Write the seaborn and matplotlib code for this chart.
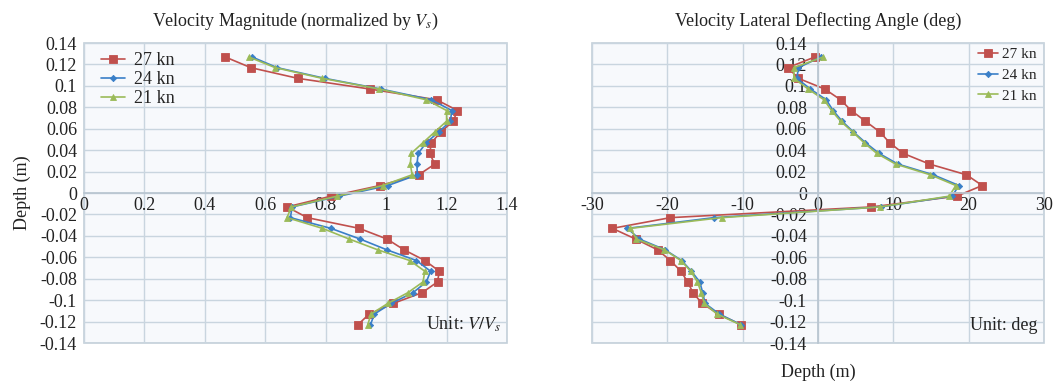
import numpy as np
import pandas as pd
import matplotlib
matplotlib.use("Agg")
import matplotlib.pyplot as plt
from matplotlib.patches import Rectangle
from matplotlib.ticker import FuncFormatter
import seaborn as sns

# Measurement depths (m)
depth = [0.127, 0.117, 0.107, 0.097, 0.087, 0.077, 0.067, 0.057, 0.047, 0.037,
         0.027, 0.017, 0.007, -0.003, -0.013, -0.023, -0.033, -0.043, -0.053,
         -0.063, -0.073, -0.083, -0.093, -0.103, -0.113, -0.123]

speeds = ["27 kn", "24 kn", "21 kn"]

# Velocity magnitude normalised by ship speed V/Vs
vmag_27 = [0.467, 0.552, 0.708, 0.947, 1.167, 1.236, 1.222, 1.181, 1.150, 1.144,
           1.161, 1.108, 0.980, 0.817, 0.672, 0.739, 0.911, 1.003, 1.059, 1.128,
           1.176, 1.170, 1.119, 1.024, 0.944, 0.906]
vmag_24 = [0.556, 0.639, 0.797, 0.983, 1.150, 1.217, 1.213, 1.174, 1.133, 1.106,
           1.102, 1.103, 1.006, 0.844, 0.689, 0.683, 0.817, 0.914, 1.002, 1.100,
           1.147, 1.133, 1.089, 1.017, 0.961, 0.948]
vmag_21 = [0.545, 0.633, 0.789, 0.978, 1.133, 1.200, 1.200, 1.161, 1.122, 1.083,
           1.080, 1.086, 0.989, 0.837, 0.686, 0.672, 0.789, 0.878, 0.972, 1.078,
           1.128, 1.122, 1.072, 1.006, 0.950, 0.939]

# Lateral deflecting angle (deg)
angle_27 = [-0.4, -4.0, -2.6, 0.9, 3.0, 4.4, 6.3, 8.2, 9.5, 11.3,
            14.8, 19.7, 21.8, 18.4, 7.1, -19.6, -27.3, -24.2, -21.3, -19.6,
            -18.2, -17.3, -16.6, -15.4, -13.2, -10.2]
angle_24 = [0.4, -2.6, -2.8, -1.0, 1.1, 2.0, 3.2, 4.7, 6.3, 8.1,
            10.6, 15.3, 18.7, 17.8, 8.3, -13.8, -25.3, -23.7, -20.3, -18.1,
            -16.8, -15.7, -15.3, -15.0, -13.1, -10.2]
angle_21 = [0.7, -3.2, -3.2, -1.3, 0.8, 1.8, 3.0, 4.6, 6.1, 7.8,
            10.3, 14.9, 18.3, 17.4, 8.2, -12.8, -24.9, -24.1, -20.4, -18.2,
            -16.9, -16.0, -15.5, -15.1, -13.4, -10.3]

y_ticks = np.round(np.arange(-0.14, 0.1401, 0.02), 2)
x_ticks_mag = np.round(np.arange(0, 1.401, 0.2), 1)
x_ticks_ang = np.arange(-30, 31, 10)

colors = {"27 kn": "#c0504d", "24 kn": "#3a7fc8", "21 kn": "#9bbb59"}
markers = {"27 kn": "s", "24 kn": "D", "21 kn": "^"}
msizes = {"27 kn": 5.5, "24 kn": 3.2, "21 kn": 5.0}

sns.set_theme(style="white")
plt.rcParams["font.family"] = ["Liberation Serif", "DejaVu Serif"]
plt.rcParams["mathtext.fontset"] = "stix"
plt.rcParams["axes.unicode_minus"] = False

grid_color = "#c9d5df"
face = "#f7f9fc"

fig = plt.figure(figsize=(10.54, 3.85), dpi=100)
W, H = 1054, 385
ax1 = fig.add_axes([84 / W, 42 / H, 423 / W, 300 / H])
ax2 = fig.add_axes([592 / W, 42 / H, 452 / W, 300 / H])


def fmt(v, pos=None):
    v = round(v, 2)
    if abs(v) < 1e-9:
        return "0"
    return f"{v:g}"


def draw(ax, series):
    for name, vals in zip(speeds, series):
        sns.lineplot(x=vals, y=depth, orient="y", sort=False, ax=ax,
                     color=colors[name], marker=markers[name],
                     markersize=msizes[name], markeredgewidth=0.6,
                     markeredgecolor=colors[name], linewidth=1.2, label=name)


def style(ax, xticks, xlim):
    ax.set_facecolor(face)
    ax.set_xlim(*xlim)
    ax.set_ylim(-0.14, 0.14)
    ax.set_xticks(xticks)
    ax.set_yticks(y_ticks)
    ax.xaxis.set_major_formatter(FuncFormatter(fmt))
    ax.yaxis.set_major_formatter(FuncFormatter(fmt))
    ax.grid(True, color=grid_color, linewidth=1.0)
    ax.set_axisbelow(True)
    for s in ["top", "right", "left", "bottom"]:
        ax.spines[s].set_visible(False)
    ax.tick_params(axis="both", length=0, labelsize=13, colors="#222222")
    ax.set_xlabel("")
    ax.set_ylabel("")
    ax.add_patch(Rectangle((0, 0), 1, 1, transform=ax.transAxes, fill=False,
                           edgecolor="#c3cfd9", linewidth=1.2, clip_on=False,
                           zorder=0.5))


# Left panel: velocity magnitude
draw(ax1, [vmag_27, vmag_24, vmag_21])
style(ax1, x_ticks_mag, (0, 1.4))
ax1.spines["bottom"].set_visible(True)
ax1.spines["bottom"].set_position(("data", 0))
ax1.spines["bottom"].set_color("#b9c6d1")
ax1.tick_params(axis="x", pad=3)
ax1.tick_params(axis="y", pad=5)
ax1.set_title(r"Velocity Magnitude (normalized by $V_s$)", fontsize=13,
              pad=12, color="#222222")
ax1.set_ylabel("Depth (m)", fontsize=13, color="#222222", labelpad=6)
ax1.text(0.985, 0.03, r"Unit: $V/V_s$", transform=ax1.transAxes,
         ha="right", va="bottom", fontsize=13, color="#222222")
ax1.legend(loc="upper left", bbox_to_anchor=(0.015, 1.005), frameon=False,
           fontsize=13, handlelength=1.3, handletextpad=0.5,
           labelspacing=0.1, borderpad=0.1)

# Right panel: lateral deflecting angle
draw(ax2, [angle_27, angle_24, angle_21])
style(ax2, x_ticks_ang, (-30, 30))
ax2.spines["bottom"].set_visible(True)
ax2.spines["bottom"].set_position(("data", 0))
ax2.spines["bottom"].set_color("#b9c6d1")
ax2.spines["left"].set_visible(True)
ax2.spines["left"].set_position(("data", 0))
ax2.spines["left"].set_color("#b9c6d1")
ax2.tick_params(axis="x", pad=3)
ax2.tick_params(axis="y", pad=8)
for lab in ax2.get_yticklabels():
    lab.set_zorder(5)
ax2.set_title("Velocity Lateral Deflecting Angle (deg)", fontsize=13,
              pad=12, color="#222222")
fig.text(818 / W, 1 - 372 / H, "Depth (m)", ha="center", va="center",
         fontsize=13, color="#222222")
ax2.text(0.985, 0.03, "Unit: deg", transform=ax2.transAxes,
         ha="right", va="bottom", fontsize=13, color="#222222")
ax2.legend(loc="upper right", bbox_to_anchor=(1.005, 1.015), frameon=False,
           fontsize=11, handlelength=1.3, handletextpad=0.3,
           labelspacing=0.45, borderpad=0.1)

fig.savefig("out.png", dpi=100, facecolor="white")
